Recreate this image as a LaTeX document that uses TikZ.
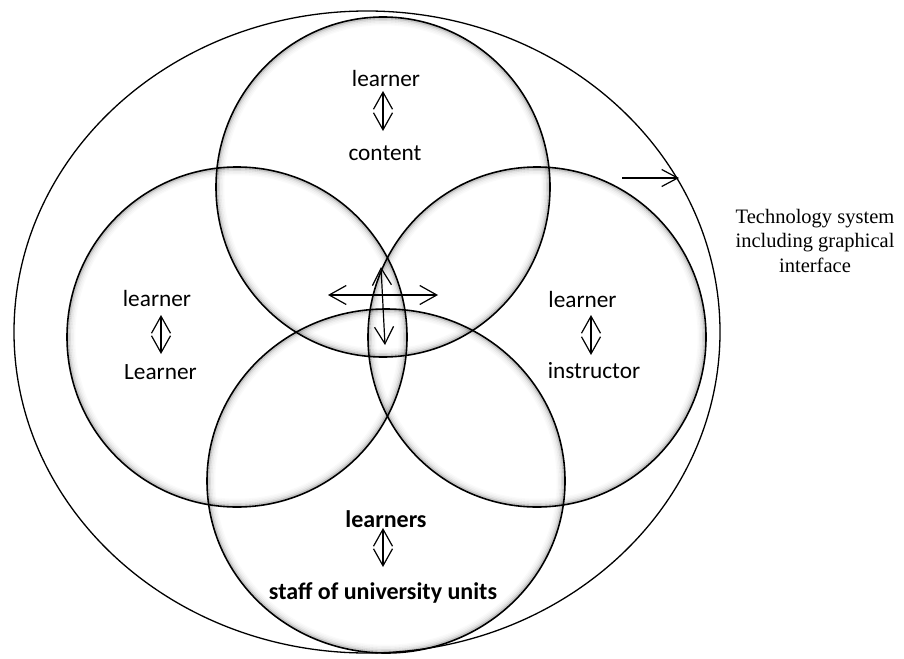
\documentclass[tikz,border=0pt]{standalone}
\usepackage{fontspec}
\setmainfont{Liberation Serif}
\newfontfamily\calfont{Carlito}
\usetikzlibrary{arrows.meta,shapes.geometric}

\tikzset{
  outline/.style={draw=black, line width=1.3pt},
  ring/.style={shape=ellipse, draw=black, line width=1.6pt, inner sep=0pt},
  soft/.style={draw=black, line width=1.6pt, opacity=#1},
  word/.style={font=\calfont\fontsize{23.3}{27}\selectfont, inner sep=0pt, anchor=base},
  boldword/.style={font=\calfont\bfseries\fontsize{24}{27}\selectfont, inner sep=0pt, anchor=base},
  twoway/.style={line width=1.2pt,
    {Straight Barb[length=17pt,width=19pt]}-{Straight Barb[length=17pt,width=19pt]}},
  oneway/.style={line width=1.2pt, -{Straight Barb[length=16pt,width=17pt]}},
  note/.style={font=\fontsize{20.5}{24.5}\selectfont, align=center, inner sep=0pt, anchor=north}
}

\begin{document}
\begin{tikzpicture}[x=1pt, y=-1pt]
  \useasboundingbox (0,0) rectangle (904,658);

  % outer boundary: the technology system
  \node[shape=ellipse, outline, minimum width=706pt, minimum height=642pt, inner sep=0pt] (system) at (367,332) {};

  % soft inner shading along the four circles
  \foreach \cx/\cy/\rx/\ry in {383/187/167/170, 237/337/170/170, 537/337/169/170, 386/481/179/172}{
    \foreach \d/\o in {1.5/0.22, 3/0.12, 4.5/0.07, 6/0.04, 7.5/0.02}{
      \draw[soft=\o] (\cx,\cy) ellipse [x radius=\rx-\d, y radius=\ry-\d];
    }
  }

  % the four interaction circles
  \node[ring, minimum width=334pt, minimum height=340pt] (content) at (383,187) {};
  \node[ring, minimum width=340pt, minimum height=340pt] (peers) at (237,337) {};
  \node[ring, minimum width=338pt, minimum height=340pt] (teacher) at (537,337) {};
  \node[ring, minimum width=358pt, minimum height=344pt] (staff) at (386,481) {};

  % labels inside the circles
  \node[word] (t1) at (386,87) {learner};
  \node[word] (t2) at (385,160) {content};
  \node[word] (l1) at (157,306) {learner};
  \node[word] (l2) at (160.5,379) {Learner};
  \node[word] (r1) at (582.5,307) {learner};
  \node[word] (r2) at (594,378) {instructor};
  \node[boldword] (b1) at (386,527) {learners};
  \node[boldword] (b2) at (383,599) {staff of university units};

  % two-way arrows between the paired labels
  \coordinate (t1s) at (383,91);  \coordinate (t2n) at (383,131);
  \coordinate (l1s) at (161,315); \coordinate (l2n) at (161,354);
  \coordinate (r1s) at (591,315); \coordinate (r2n) at (591,355);
  \coordinate (b1s) at (383,528); \coordinate (b2n) at (383,567);
  \draw[twoway] (t1s) -- (t2n);
  \draw[twoway] (l1s) -- (l2n);
  \draw[twoway] (r1s) -- (r2n);
  \draw[twoway] (b1s) -- (b2n);

  % central cross of arrows
  \coordinate (hl) at (328,295); \coordinate (hr) at (438,295);
  \coordinate (vt) at (381,267); \coordinate (vb) at (385,345);
  \draw[twoway] (hl) -- (hr);
  \draw[twoway] (vt) -- (vb);

  % pointer to the outer boundary and its caption
  \coordinate (ptail) at (622,178); \coordinate (ptip) at (679,178);
  \draw[oneway] (ptail) -- (ptip);
  \node[note] (caption) at (815,209) {Technology system\\including graphical\\interface};
\end{tikzpicture}
\end{document}
